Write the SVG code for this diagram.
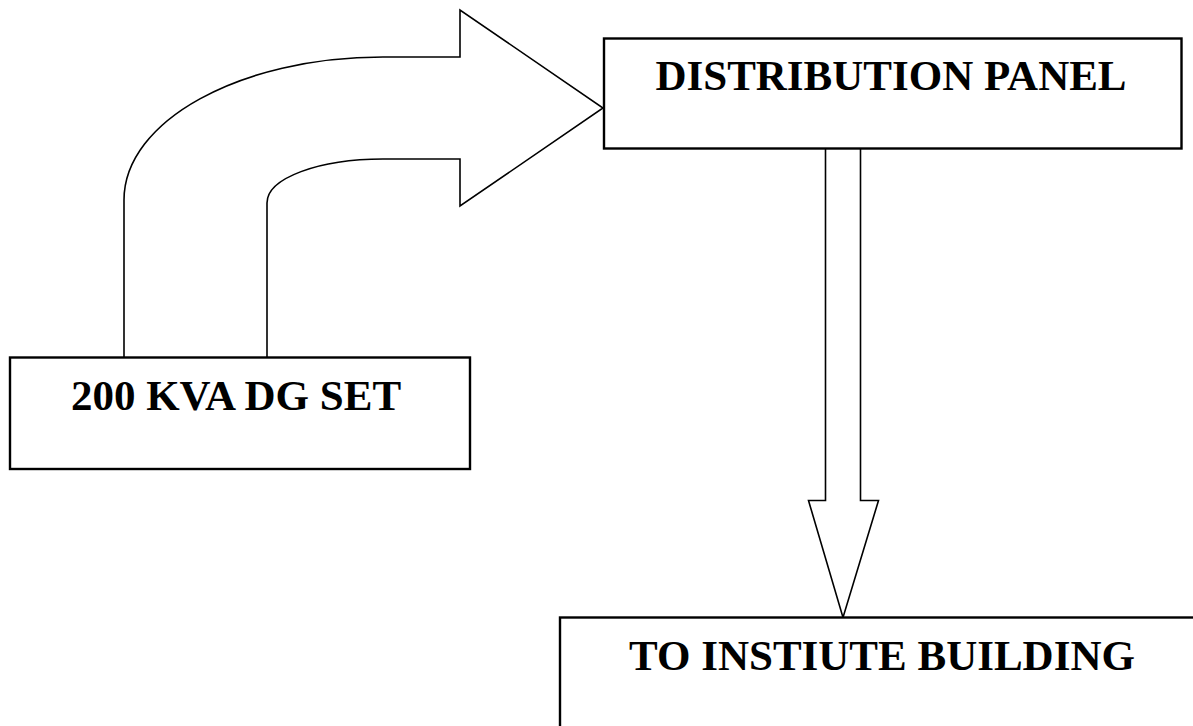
<svg xmlns="http://www.w3.org/2000/svg" width="1193" height="726" viewBox="0 0 1193 726">
<style>
.box{fill:#fff;stroke:#000;stroke-width:2.4}
.arr{fill:#fff;stroke:#000;stroke-width:1.6;stroke-linejoin:miter}
.lbl{font-family:"Liberation Serif","Times New Roman",serif;font-weight:bold;font-size:43px;fill:#000;text-anchor:middle}
</style>
<rect width="1193" height="726" fill="#fff"/>
<g id="connectors">
<path class="arr" d="M124,358 L124,200 C124,121 240,57 383,57 L460,57 L460,10 L603,108 L460,206 L460,159 L383,159 C319,159 267,178 267,203 L267,358"/>
<path class="arr" d="M825.5,149 L825.5,500.5 L808.5,500.5 L843,617.5 L878.5,500.5 L860.5,500.5 L860.5,149"/>
</g>
<g id="node-dg">
<rect class="box" x="10" y="357.5" width="460" height="111.5"/>
<text class="lbl" x="236" y="410">200 KVA DG SET</text>
</g>
<g id="node-panel">
<rect class="box" x="604" y="38.5" width="577.5" height="110"/>
<text class="lbl" x="891" y="90">DISTRIBUTION PANEL</text>
</g>
<g id="node-building">
<rect class="box" x="560" y="617.5" width="700" height="200"/>
<text class="lbl" x="882" y="670">TO INSTIUTE BUILDING</text>
</g>
</svg>
